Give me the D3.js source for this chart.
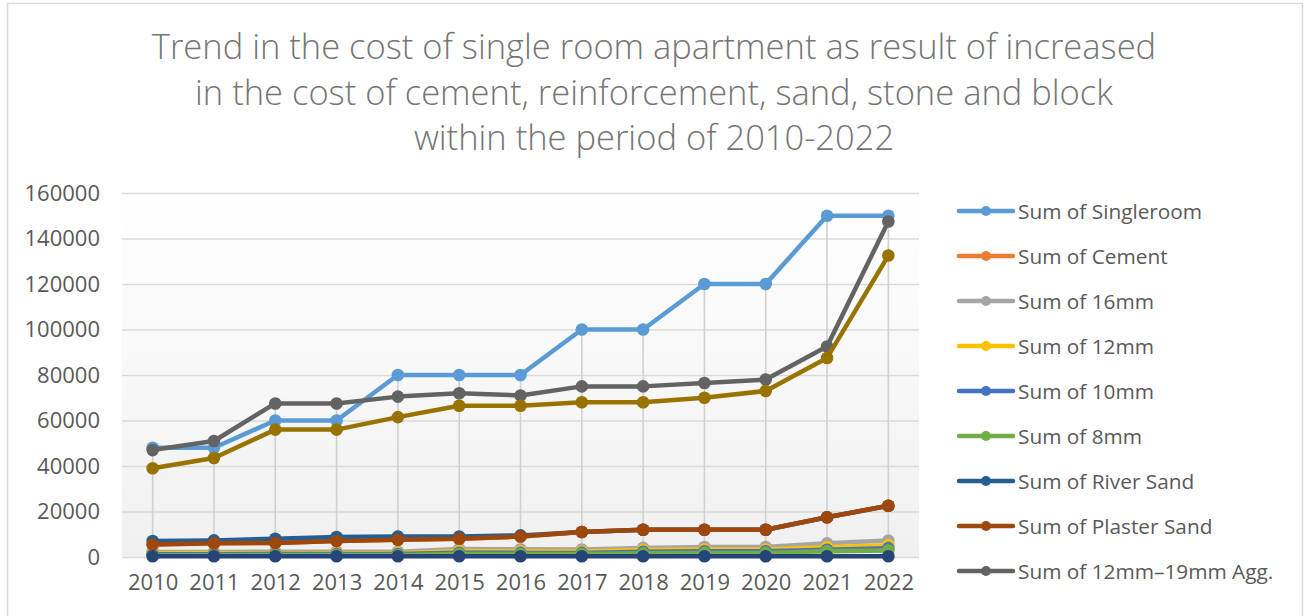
<!DOCTYPE html>
<html lang="en">
<head>
<meta charset="utf-8">
<title>Single room apartment cost trend</title>
<script src="https://cdn.jsdelivr.net/npm/d3@7"></script>
<style>
    html, body { margin: 0; padding: 0; background: #fff; }
    svg { display: block; font-family: "Open Sans", sans-serif; }
</style>
</head>
<body>
<script>
// chart values
let years = ["2010","2011","2012","2013","2014","2015","2016","2017","2018","2019","2020","2021","2022"];
let yTicks = [0, 20000, 40000, 60000, 80000, 100000, 120000, 140000, 160000];

let singleroom = [48000,48000,60000,60000,80000,80000,80000,100000,100000,120000,120000,150000,150000];
let cement     = [5500,6000,6200,7000,7600,8000,9000,11000,12000,12000,12000,17500,22500];
let mm16       = [2200,2200,2300,2300,2300,3500,3400,3300,4000,4400,4400,6000,7200];
let mm12       = [1600,1600,1700,1700,1700,2600,2500,2400,3100,3300,3300,4300,5200];
let mm10       = [1200,1200,1300,1300,1300,1900,1800,1800,2300,2500,2500,3200,3900];
let mm8        = [800,800,900,900,900,1300,1300,1300,1600,1800,1800,2500,2900];
let riverSand  = [7000,7300,8000,8800,9000,9000,9500,11000,12000,12000,12000,17500,22500];
let plaster    = [5500,6000,6200,7000,7600,8000,9000,11000,12000,12000,12000,17500,22500];
let agg        = [47000,51000,67500,67500,70500,72000,71000,75000,75000,76500,78000,92500,147500];
let block      = [39000,43500,56000,56000,61500,66500,66500,68000,68000,70000,73000,87500,132500];
let stone      = [300,300,300,300,300,300,300,300,300,300,300,300,300];

let seriesNames = ["Sum of Singleroom","Sum of Cement","Sum of 16mm","Sum of 12mm","Sum of 10mm",
    "Sum of 8mm","Sum of River Sand","Sum of Plaster Sand","Sum of 12mm\u201319mm Agg.",
    "Sum of Block","Sum of Stone"];
let seriesValues = [singleroom, cement, mm16, mm12, mm10, mm8, riverSand, plaster, agg, block, stone];
let colors = ["#5B9BD5","#ED7D31","#A5A5A5","#FFC000","#4472C4","#70AD47","#255E91","#9E480E","#636363","#997300","#264478"];
let legendShown = 9; // legend is cut off by the chart edge after 9 entries

let titleLines = ["Trend in the cost of single room apartment as result of increased",
    "in the cost of cement, reinforcement, sand, stone and block",
    "within the period of 2010-2022"];

let w = 1306, h = 616;
let plotLeft = 122, plotRight = 919, plotTop = 193, plotBottom = 557;

let svg = d3.select("body").append("svg").attr("width", w).attr("height", h);

// chart border
svg.append("rect")
    .attr("x", 7.5).attr("y", 3.5)
    .attr("width", 1295).attr("height", 640)
    .attr("fill", "#fff").attr("stroke", "#d9d9d9").attr("stroke-width", 1.5);

// plot area gradient
let grad = svg.append("defs").append("linearGradient")
    .attr("id", "bg").attr("x1", 0).attr("y1", 0).attr("x2", 0).attr("y2", 1);
grad.append("stop").attr("offset", "0%").attr("stop-color", "#ffffff");
grad.append("stop").attr("offset", "100%").attr("stop-color", "#f0f0f0");

svg.append("rect")
    .attr("x", plotLeft).attr("y", plotTop)
    .attr("width", plotRight - plotLeft).attr("height", plotBottom - plotTop)
    .attr("fill", "url(#bg)");

// title
svg.append("g").selectAll("text")
    .data(titleLines)
    .enter()
    .append("text")
    .text(d => d)
    .attr("x", 654)
    .attr("y", (d, i) => 59 + i * 45.5)
    .attr("text-anchor", "middle")
    .attr("font-size", "34.5px")
    .attr("font-weight", 300)
    .attr("fill", "#757575");

let xScale = d3.scalePoint().domain(years).range([plotLeft, plotRight]).padding(0.5);
let yScale = d3.scaleLinear().domain([0, 160000]).range([plotBottom, plotTop]);

// horizontal gridlines
let grid = svg.append("g")
    .attr("transform", "translate(" + plotLeft + ",0)")
    .call(d3.axisLeft(yScale).tickValues(yTicks).tickSize(-(plotRight - plotLeft)).tickFormat(""));
grid.select(".domain").remove();
grid.selectAll("line").attr("stroke", "#d9d9d9").attr("stroke-width", 1.3);

// y labels
let yAxis = svg.append("g")
    .attr("transform", "translate(100,0)")
    .call(d3.axisLeft(yScale).tickValues(yTicks).tickSize(0).tickPadding(0).tickFormat(d3.format("d")));
yAxis.select(".domain").remove();
yAxis.selectAll("text")
    .attr("font-size", "22px").attr("fill", "#595959")
    .attr("font-family", "Open Sans, sans-serif");

// x labels
let xAxis = svg.append("g")
    .attr("transform", "translate(0," + plotBottom + ")")
    .call(d3.axisBottom(xScale).tickSize(0).tickPadding(17));
xAxis.select(".domain").remove();
xAxis.selectAll("text")
    .attr("font-size", "22px").attr("fill", "#595959")
    .attr("font-family", "Open Sans, sans-serif");

// drop lines from the highest point of each year
svg.append("g").selectAll("line")
    .data(years)
    .enter()
    .append("line")
    .attr("x1", d => xScale(d)).attr("x2", d => xScale(d))
    .attr("y1", (d, i) => yScale(d3.max(seriesValues, s => s[i])))
    .attr("y2", yScale(0))
    .attr("stroke", "#d0d0d0").attr("stroke-width", 1.6);

// series
let line = d3.line()
    .x((d, i) => xScale(years[i]))
    .y(d => yScale(d));

seriesValues.forEach((vals, k) => {
    let g = svg.append("g");
    g.append("path")
        .attr("d", line(vals))
        .attr("fill", "none")
        .attr("stroke", colors[k])
        .attr("stroke-width", 4.5)
        .attr("stroke-linejoin", "round");
    g.selectAll("circle")
        .data(vals)
        .enter()
        .append("circle")
        .attr("cx", (d, i) => xScale(years[i]))
        .attr("cy", d => yScale(d))
        .attr("r", 6.3)
        .attr("fill", colors[k]);
});

// legend
let legend = svg.append("g").selectAll("g")
    .data(seriesNames.slice(0, legendShown))
    .enter()
    .append("g")
    .attr("transform", (d, i) => "translate(959," + (211 + i * 45) + ")");
legend.append("line")
    .attr("x1", 0).attr("x2", 54)
    .attr("stroke", (d, i) => colors[i])
    .attr("stroke-width", 4.5)
    .attr("stroke-linecap", "round");
legend.append("circle")
    .attr("cx", 27).attr("r", 5)
    .attr("fill", (d, i) => colors[i]);
legend.append("text")
    .text(d => d)
    .attr("x", 59).attr("y", 7.5)
    .attr("font-size", "20.8px")
    .attr("fill", "#595959");
</script>
</body>
</html>
